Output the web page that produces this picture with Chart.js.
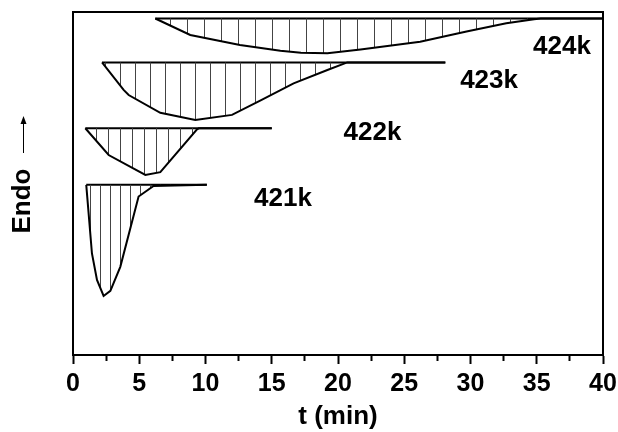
<!DOCTYPE html>
<html>
<head>
<meta charset="utf-8">
<script src="https://cdn.jsdelivr.net/npm/chart.js@4"></script>
<style>
  html, body { margin: 0; padding: 0; background: #fff; }
  #wrap { width: 618px; height: 432px; }
</style>
</head>
<body>
<div id="wrap"><canvas id="c" width="618" height="432"></canvas></div>
<script>
// Isothermal DSC traces (heat flow, arbitrary units; endo up) at four temperatures
const times421 = [1.0, 1.43, 1.81, 2.31, 2.82, 3.57, 4.95, 6.08, 10.1];
const flow421  = [49.6, 29.6, 21.9, 17.2, 18.7, 25.7, 46.2, 49.3, 49.6];
const base421  = 49.6;

const times422 = [0.93, 2.69, 5.46, 6.59, 9.36, 9.5, 15.0];
const flow422  = [66.1, 58.3, 52.5, 53.3, 65.8, 66.1, 66.1];
const base422  = 66.1;

const times423 = [2.19, 3.82, 4.2, 6.59, 9.23, 12.0, 14.2, 16.65, 19.2, 20.7, 28.1];
const flow423  = [85.3, 77.3, 75.8, 70.6, 68.5, 70.0, 74.3, 79.2, 83.1, 85.3, 85.3];
const base423  = 85.3;

const times424 = [6.21, 8.85, 12.6, 15.65, 17.2, 19.2, 21.7, 26.2, 29.7, 32.7, 34.8, 35.3, 40.0];
const flow424  = [98.1, 93.3, 90.4, 88.7, 88.1, 88.0, 89.1, 91.3, 94.3, 96.7, 97.9, 98.1, 98.1];
const base424  = 98.1;

const curveNames = ['421k', '422k', '423k', '424k'];
const labelTimes = [15.85, 22.6, 31.4, 36.9];
const labelFlows = [45.5, 64.7, 80.0, 89.9];

const xTicks = [0, 5, 10, 15, 20, 25, 30, 35, 40];

const FONT = '"Liberation Sans", Arial, sans-serif';

// vertical-line hatch used to shade each peak
function hatch(spacing) {
  const c = document.createElement('canvas');
  c.width = spacing; c.height = 4;
  const g = c.getContext('2d');
  g.fillStyle = '#444';
  g.fillRect(0, 0, 1, 4);
  return g.createPattern(c, 'repeat');
}

function pts(ts, vs) { return ts.map((t, i) => ({ x: t, y: vs[i] })); }

const traces = [
  { t: times421, v: flow421, base: base421, gap: 10 },
  { t: times422, v: flow422, base: base422, gap: 12 },
  { t: times423, v: flow423, base: base423, gap: 15 },
  { t: times424, v: flow424, base: base424, gap: 17 }
];

const datasets = [];
traces.forEach((tr, i) => {
  datasets.push({
    label: curveNames[i],
    data: pts(tr.t, tr.v),
    borderColor: '#000',
    borderWidth: 2,
    backgroundColor: hatch(tr.gap),
    fill: { value: tr.base },
    pointRadius: 0,
    tension: 0
  });
  datasets.push({
    label: curveNames[i] + ' baseline',
    data: pts([tr.t[0], tr.t[tr.t.length - 1]], [tr.base, tr.base]),
    borderColor: '#000',
    borderWidth: 2,
    fill: false,
    pointRadius: 0
  });
});

const decorations = {
  id: 'decorations',
  afterDraw(chart) {
    const { ctx, chartArea: a, scales } = chart;
    ctx.save();
    // frame
    ctx.strokeStyle = '#000';
    ctx.lineWidth = 2;
    ctx.strokeRect(a.left, a.top, a.right - a.left, a.bottom - a.top);

    // curve labels
    ctx.fillStyle = '#000';
    ctx.font = 'bold 26px ' + FONT;
    ctx.textAlign = 'center';
    ctx.textBaseline = 'middle';
    curveNames.forEach((name, i) => {
      ctx.fillText(name, scales.x.getPixelForValue(labelTimes[i]), scales.y.getPixelForValue(labelFlows[i]));
    });

    // rotated "Endo" with upward arrow
    const cx = a.left - 50;
    ctx.save();
    ctx.translate(cx, a.top + 189);
    ctx.rotate(-Math.PI / 2);
    ctx.font = 'bold 26px ' + FONT;
    ctx.textAlign = 'center';
    ctx.textBaseline = 'middle';
    ctx.fillText('Endo', 0, 0);
    ctx.restore();

    ctx.strokeStyle = '#000';
    ctx.lineWidth = 1;
    ctx.beginPath();
    ctx.moveTo(cx + 0.5, a.top + 141);
    ctx.lineTo(cx + 0.5, a.top + 110);
    ctx.stroke();
    ctx.beginPath();
    ctx.moveTo(cx + 0.5, a.top + 104);
    ctx.lineTo(cx - 2.5, a.top + 112);
    ctx.lineTo(cx + 3.5, a.top + 112);
    ctx.closePath();
    ctx.fill();
    ctx.restore();
  }
};

new Chart(document.getElementById('c'), {
  type: 'line',
  data: { datasets },
  options: {
    responsive: false,
    animation: false,
    layout: { padding: { left: 73, right: 15, top: 12, bottom: 2 } },
    plugins: { legend: { display: false }, tooltip: { enabled: false } },
    scales: {
      x: {
        type: 'linear',
        min: 0, max: 40,
        afterBuildTicks(scale) {
          const t = [];
          for (let v = 0; v <= 40; v += 2.5) t.push({ value: v });
          scale.ticks = t;
        },
        afterFit(scale) {
          scale.paddingLeft = 0;
          scale.paddingRight = 0;
        },
        ticks: {
          color: '#000',
          padding: 5,
          maxRotation: 0,
          autoSkip: false,
          font: { family: FONT, size: 25, weight: 'bold' },
          callback: (v) => (xTicks.includes(v) ? String(v) : '')
        },
        grid: {
          drawOnChartArea: false,
          tickLength: 9,
          tickWidth: 2,
          tickColor: '#000',
          tickBorderDash: (ctx) => (ctx.tick && ctx.tick.value % 5 !== 0 ? [5, 20] : [])
        },
        border: { color: '#000', width: 2 },
        title: {
          display: true,
          text: 't (min)',
          color: '#000',
          padding: { top: 0, bottom: 0 },
          font: { family: FONT, size: 26, weight: 'bold', lineHeight: 1.0 }
        }
      },
      y: {
        display: false,
        min: 0, max: 100
      }
    }
  },
  plugins: [decorations]
});
</script>
</body>
</html>
